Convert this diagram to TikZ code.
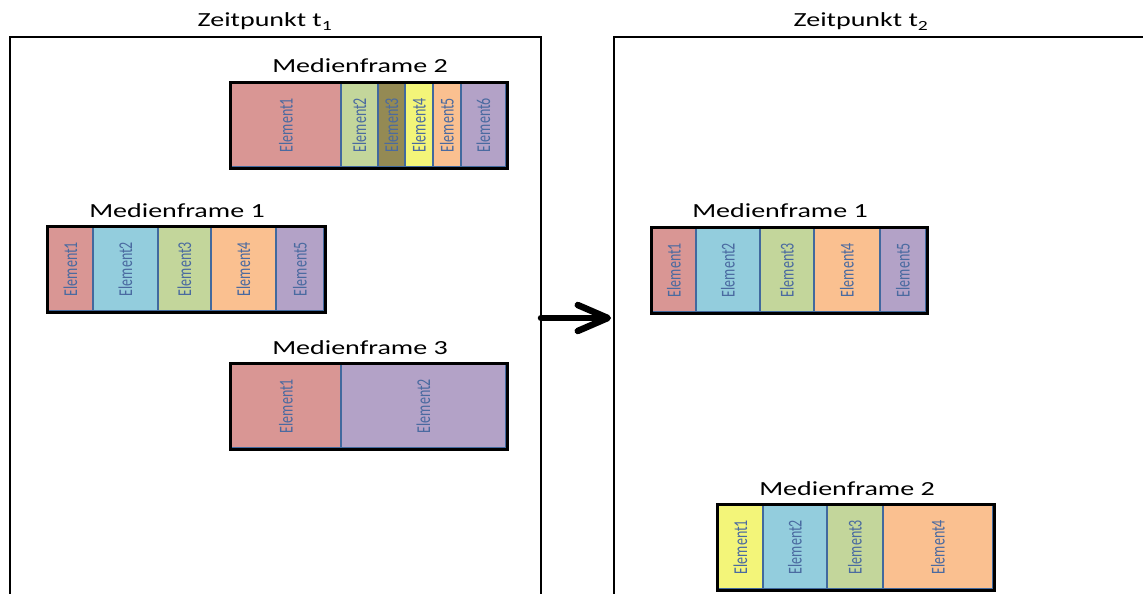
\documentclass[tikz,border=0pt]{standalone}
\usepackage{fontspec}
\setmainfont{Carlito}
\newfontfamily\widefont[FakeStretch=1.4]{Carlito}
\usepackage{graphicx}
\usetikzlibrary{arrows.meta}

\definecolor{elred}{HTML}{D99694}
\definecolor{elblue}{HTML}{93CDDD}
\definecolor{elgreen}{HTML}{C3D69B}
\definecolor{elolive}{HTML}{948A54}
\definecolor{elyellow}{HTML}{F3F579}
\definecolor{elorange}{HTML}{FAC090}
\definecolor{elpurple}{HTML}{B3A2C7}
\definecolor{divblue}{HTML}{41699E}
\definecolor{txtblue}{HTML}{4A6AA0}

% rotated element label
\newcommand{\elabel}[1]{\rotatebox{90}{\scalebox{1}[1.4]{#1}}}

\tikzset{
  elem/.style={rectangle, draw=divblue, line width=2pt, inner sep=0pt,
    minimum height=84pt, anchor=north west, text=txtblue,
    font=\fontsize{14}{16}\selectfont},
  frame/.style={draw=black, line width=3pt},
  mftitle/.style={anchor=base, font=\widefont\fontsize{20}{24}\selectfont},
  panel/.style={line width=2.6pt},
  bigarrow/.style={line width=6.5pt, line cap=round,
    -{Straight Barb[length=30pt, width=26pt, line cap=round, line join=round]}}
}

\begin{document}
\begin{tikzpicture}[x=1pt, y=-1pt]
	\useasboundingbox (0,0) rectangle (1143,594);

	% Panels
	\draw[panel] (10,594) -- (10,37) -- (541,37) -- (541,594);
	\draw[panel] (614,594) -- (614,37) -- (1143,37);
	\node[mftitle] (zt1) at (265,27) {Zeitpunkt t\textsubscript{1}};
	\node[mftitle] (zt2) at (861,27) {Zeitpunkt t\textsubscript{2}};

	% Medienframe 2 at t1
	\foreach \i/\xa/\w/\c in {1/230/110/elred, 2/340/37/elgreen, 3/377/27/elolive,
	    4/404/28/elyellow, 5/432/28/elorange, 6/460/45/elpurple}
		\node[elem, fill=\c, minimum width=\w] (a2e\i) at (\xa,82) {\elabel{Element\i}};
	\draw[frame] (a2e1.north west) rectangle (a2e6.south east);
	\node[mftitle] (a2t) at (360,73) {Medienframe 2};

	% Medienframe 1 at t1
	\foreach \i/\xa/\w/\c in {1/47/45/elred, 2/92/65/elblue, 3/157/53/elgreen,
	    4/210/65/elorange, 5/275/48/elpurple}
		\node[elem, fill=\c, minimum width=\w] (a1e\i) at (\xa,226) {\elabel{Element\i}};
	\draw[frame] (a1e1.north west) rectangle (a1e5.south east);
	\node[mftitle] (a1t) at (177,217) {Medienframe 1};

	% Medienframe 3 at t1
	\foreach \i/\xa/\w/\c in {1/230/110/elred, 2/340/165/elpurple}
		\node[elem, fill=\c, minimum width=\w] (a3e\i) at (\xa,363) {\elabel{Element\i}};
	\draw[frame] (a3e1.north west) rectangle (a3e2.south east);
	\node[mftitle] (a3t) at (360,354) {Medienframe 3};

	% Medienframe 1 at t2
	\foreach \i/\xa/\w/\c in {1/651/44/elred, 2/695/64/elblue, 3/759/54/elgreen,
	    4/813/66/elorange, 5/879/46/elpurple}
		\node[elem, fill=\c, minimum width=\w] (b1e\i) at (\xa,227) {\elabel{Element\i}};
	\draw[frame] (b1e1.north west) rectangle (b1e5.south east);
	\node[mftitle] (b1t) at (780,217) {Medienframe 1};

	% Medienframe 2 at t2
	\foreach \i/\xa/\w/\c in {1/717/45/elyellow, 2/762/64/elblue, 3/826/56/elgreen,
	    4/882/110/elorange}
		\node[elem, fill=\c, minimum width=\w] (b2e\i) at (\xa,504) {\elabel{Element\i}};
	\draw[frame] (b2e1.north west) rectangle (b2e4.south east);
	\node[mftitle] (b2t) at (847,495) {Medienframe 2};

	% Arrow from t1 to t2
	\coordinate (lp) at (541,318);
	\coordinate (rp) at (611,318);
	\draw[bigarrow] (lp) -- (rp);
\end{tikzpicture}
\end{document}
